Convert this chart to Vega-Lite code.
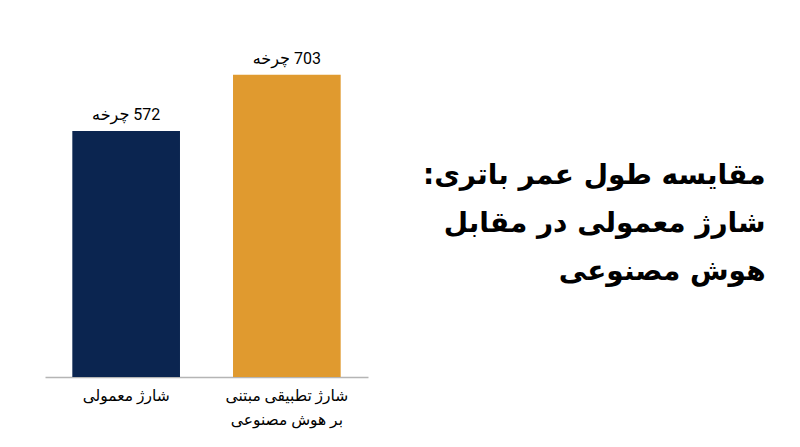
{
  "$schema": "https://vega.github.io/schema/vega-lite/v6.json",
  "description": "Battery life comparison: regular vs AI adaptive charging",
  "background": "white",
  "padding": {"left": 45, "top": 46, "right": 5, "bottom": 5},
  "width": 323,
  "height": 331,
  "title": {
    "text": ["مقایسه طول عمر باتری:\u200f", "شارژ معمولی در مقابل", "هوش مصنوعی"],
    "orient": "right",
    "anchor": "middle",
    "angle": 0,
    "align": "right",
    "baseline": "middle",
    "offset": 0,
    "dx": 55,
    "dy": -36,
    "font": "DejaVu Sans",
    "fontSize": 28,
    "fontWeight": "bold",
    "lineHeight": 48,
    "color": "black"
  },
  "data": {
    "values": [
      {"method": "شارژ معمولی", "cycles": 572, "label": "چرخه\u200e 572"},
      {"method": "شارژ تطبیقی مبتنی بر هوش مصنوعی", "cycles": 703, "label": "چرخه\u200e 703"}
    ]
  },
  "encoding": {
    "x": {
      "field": "method",
      "type": "nominal",
      "sort": null,
      "title": null,
      "scale": {"paddingInner": 0.33, "paddingOuter": 0.17},
      "axis": {
        "labelAngle": 0,
        "labelExpr": "datum.label == 'شارژ تطبیقی مبتنی بر هوش مصنوعی' ? ['شارژ تطبیقی مبتنی', 'بر هوش مصنوعی'] : datum.label",
        "labelFont": "Roboto, DejaVu Sans",
        "labelFontSize": 15.5,
        "labelColor": "black",
        "labelLineHeight": 24,
        "labelPadding": 11,
        "ticks": false,
        "domainColor": "#b5b5b5",
        "domainWidth": 1.5,
        "grid": false
      }
    },
    "y": {
      "field": "cycles",
      "type": "quantitative",
      "scale": {"domain": [0, 770]},
      "axis": null
    }
  },
  "layer": [
    {
      "mark": {"type": "bar"},
      "encoding": {
        "color": {
          "field": "method",
          "type": "nominal",
          "sort": null,
          "scale": {"range": ["#0b2550", "#e09a2f"]},
          "legend": null
        }
      }
    },
    {
      "mark": {"type": "text", "baseline": "bottom", "dy": -8, "font": "Roboto, DejaVu Sans", "fontSize": 16, "color": "black"},
      "encoding": {"text": {"field": "label"}}
    }
  ],
  "config": {"view": {"stroke": null}}
}
